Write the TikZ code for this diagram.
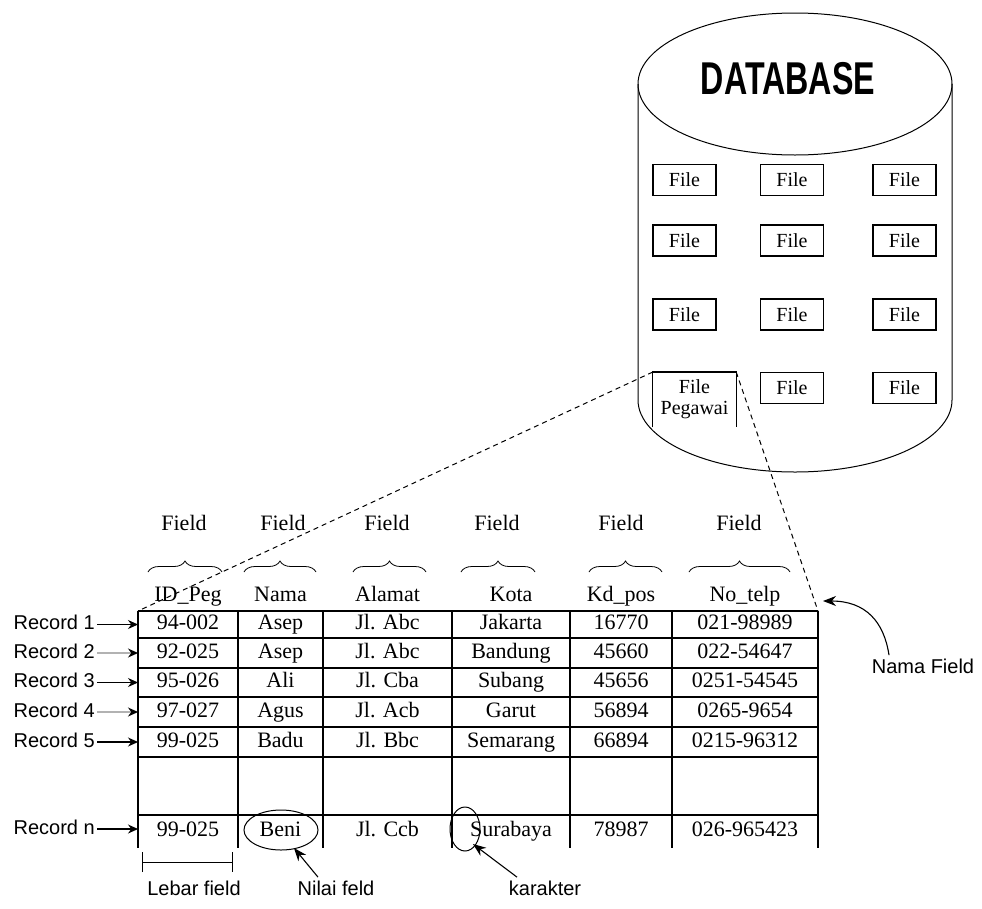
\documentclass[tikz,border=0pt]{standalone}
\usepackage{fontspec}
\setmainfont{Liberation Serif}
\setsansfont{Liberation Sans}
\usepackage{tikz}
\usetikzlibrary{arrows.meta, decorations.pathreplacing}

\newcommand{\cellfont}{\fontsize{22}{24}\selectfont}
\newcommand{\labfont}{\sffamily\fontsize{20}{22}\selectfont}
\newcommand{\filefont}{\fontsize{20}{21}\selectfont}

\tikzset{
  filebox/.style={draw, line width=1.2pt, minimum width=63pt, minimum height=31pt, inner sep=0pt, font=\filefont},
  cell/.style={font=\cellfont, inner sep=0pt, text height=15pt, text depth=5pt},
  reclab/.style={font=\labfont, anchor=east, inner sep=0pt, text height=14pt, text depth=4pt},
  recarrow/.style={-{Stealth[length=10pt,width=9pt,color=black]}, line width=1.2pt},
  notearrow/.style={-{Stealth[length=13pt,width=10pt]}, line width=1.1pt},
  fieldbrace/.style={decorate, decoration={brace, amplitude=11pt}, line width=0.8pt},
  tabline/.style={line width=1.5pt},
  joinline/.style={dashed, dash pattern=on 5pt off 4pt, line width=1pt}
}

\begin{document}
\begin{tikzpicture}[x=1pt, y=-1pt]
  \useasboundingbox (0,0) rectangle (982,908);
  % database cylinder
  \draw[line width=1pt] (795,84) ellipse [x radius=157, y radius=71];
  \draw[line width=1pt] (638,84) -- (638,400) arc [start angle=180, end angle=0, x radius=157, y radius=72] -- (952,84);
  \node[font=\sffamily\bfseries\fontsize{46}{46}\selectfont] (db) at (788,79) {\scalebox{0.7}[1]{DATABASE}};
  % files in the database
  \foreach \r/\y in {1/180, 2/240.5, 3/314.5} {
    \foreach \c/\x in {1/684.5, 2/792, 3/904.5} {
      \node[filebox] (file\r\c) at (\x,\y) {File};
    }
  }
  \node[filebox] (file42) at (792,388) {File};
  \node[filebox] (file43) at (904.5,388) {File};
  \node[font=\filefont, minimum width=83pt, minimum height=55pt, inner sep=0pt, align=center, anchor=north] (filepeg) at (694.5,372) {File\\Pegawai};
  \draw[line width=1.2pt] (filepeg.south west) -- (filepeg.north west) -- (filepeg.north east) -- (filepeg.south east);
  % table of the file
  \coordinate (tabtl) at (138,611);
  \coordinate (tabtr) at (818,611);
  \foreach \y in {611,638,668,697,727,757,815} {
    \draw[tabline] (138,\y) -- (818,\y);
  }
  \foreach \x in {138,238,323,452,570,672,818} {
    \draw[tabline] (\x,611) -- (\x,848);
  }
  % field names, braces
  \foreach \i/\x/\fx/\bl/\br/\h in {1/188/184/148/222/ID\_Peg, 2/280.5/283/244/316/Nama, 3/387.5/387/353/426/Alamat,
      4/511/497/461/535/Kota, 5/621/621/589/662/Kd\_pos, 6/745/739/689/790/No\_telp} {
    \node[cell] (head\i) at (\x,596) {\h};
    \node[cell] (field\i) at (\fx,525) {Field};
    \draw[fieldbrace] (\bl,572) -- (\br,572);
  }
  % records
  \foreach \n/\y/\a/\b/\c/\d/\e/\f in {1/624.5/94-002/Asep/Jl. Abc/Jakarta/16770/021-98989,
      2/653/92-025/Asep/Jl. Abc/Bandung/45660/022-54647,
      3/682.5/95-026/Ali/Jl. Cba/Subang/45656/0251-54545,
      4/712/97-027/Agus/Jl. Acb/Garut/56894/0265-9654,
      5/742/99-025/Badu/Jl. Bbc/Semarang/66894/0215-96312,
      n/831/99-025/Beni/Jl. Ccb/Surabaya/78987/026-965423} {
    \node[cell] (val\n-1) at (188,\y) {\a};
    \node[cell] (val\n-2) at (280.5,\y) {\b};
    \node[cell] (val\n-3) at (387.5,\y) {\c};
    \node[cell] (val\n-4) at (511,\y) {\d};
    \node[cell] (val\n-5) at (621,\y) {\e};
    \node[cell] (val\n-6) at (745,\y) {\f};
  }
  \foreach \n/\y/\col in {1/624.5/black, 2/653/black!30, 3/682.5/black, 4/712/black!30, 5/742/black, n/829/black} {
    \node[reclab] (rec\n) at (95,\y) {Record \n};
    \coordinate (in\n) at (138,\y);
    \draw[recarrow, draw=\col] ([xshift=2pt]rec\n.east) -- (in\n);
  }
  % zoom lines from file to table
  \draw[joinline] (filepeg.north west) -- (tabtl);
  \draw[joinline] (filepeg.north east) -- (tabtr);
  % notes
  \node[font=\labfont] (namafield) at (923,666) {Nama Field};
  \coordinate (nftip) at (823,601);
  \draw[notearrow] ([xshift=-34pt]namafield.north) .. controls (884,622) and (866,601) .. (nftip);
  \draw[line width=1pt] (281,830) ellipse [x radius=37, y radius=20];
  \draw[line width=1pt] (465,829) ellipse [x radius=15, y radius=22];
  \node[font=\labfont] (lebar) at (194,888) {Lebar field};
  \coordinate (lebarl) at (142,862);
  \coordinate (lebarr) at (233,862);
  \draw[{Bar[width=20pt]}-{Bar[width=20pt]}, line width=0.6pt] (lebarl) -- (lebarr);
  \node[font=\labfont] (nilai) at (336,888) {Nilai feld};
  \coordinate (nilaitip) at (294,848);
  \draw[notearrow] ([xshift=-18pt]nilai.north) -- (nilaitip);
  \node[font=\labfont] (karakter) at (545,888) {karakter};
  \coordinate (kartip) at (473,844);
  \draw[notearrow] ([xshift=-28pt]karakter.north) -- (kartip);
\end{tikzpicture}
\end{document}
